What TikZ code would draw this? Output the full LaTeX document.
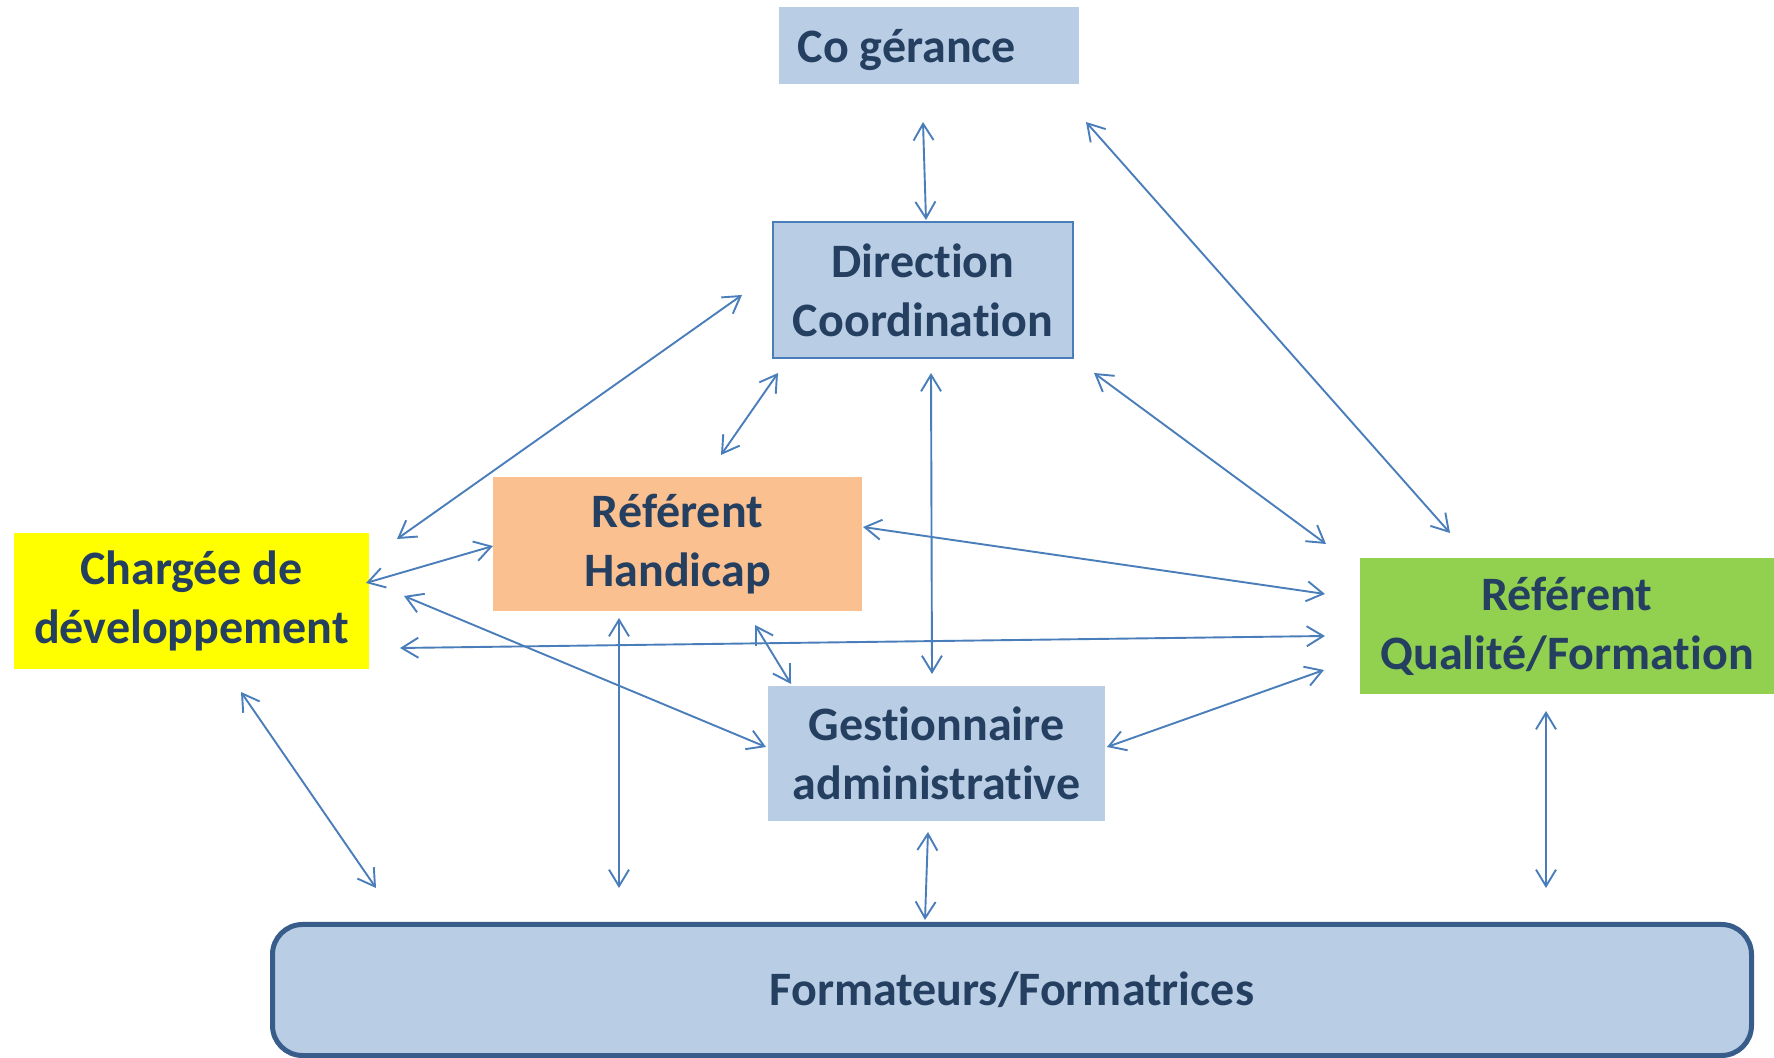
\documentclass[tikz,border=0pt]{standalone}
\usepackage{fontspec}
\setmainfont{Carlito}[Ligatures=NoCommon]
\usetikzlibrary{arrows.meta}
\definecolor{boxblue}{HTML}{B9CDE5}
\definecolor{peach}{HTML}{FAC090}
\definecolor{yel}{HTML}{FFFF00}
\definecolor{grn}{HTML}{92D050}
\definecolor{txt}{HTML}{243F60}
\definecolor{arrowc}{HTML}{4A7EBB}
\definecolor{formborder}{HTML}{385D8A}
\tikzset{
  box/.style={inner sep=0pt, outer sep=0pt, align=center, text=txt,
    font=\fontsize{24pt}{29.5pt}\selectfont\bfseries},
  conn/.style={draw=arrowc, line width=0.95pt,
    {Straight Barb[length=8.25pt,width=10pt]}-{Straight Barb[length=8.25pt,width=10pt]}}
}
\begin{document}
\begin{tikzpicture}[x=0.5pt,y=-0.5pt]
\useasboundingbox (0,0) rectangle (1774,1058);
\fill[white] (0,0) rectangle (1774,1058);

% nodes
\node[box, fill=boxblue, minimum width=150pt, minimum height=38.5pt, text height=22pt, text depth=4.5pt] (co) at (929,45.5) {Co gérance\hspace*{22pt}};
\node[box, fill=boxblue, draw=arrowc, line width=1pt, minimum width=150pt, minimum height=68pt] (dir) at (923,290) {Direction\\Coordination};
\node[box, fill=peach, minimum width=184.5pt, minimum height=67pt] (hand) at (677.5,544) {Référent\\Handicap};
\node[box, fill=yel, minimum width=177.5pt, minimum height=68pt] (charg) at (191.5,601) {Chargée de\\développement};
\node[box, fill=grn, minimum width=207pt, minimum height=68pt] (rq) at (1567,626) {Référent\\Qualité/Formation};
\node[box, fill=boxblue, minimum width=168.5pt, minimum height=67.5pt] (gest) at (936.5,753.5) {Gestionnaire\\administrative};
\node[box, fill=boxblue, draw=formborder, line width=2.5pt, rounded corners=15pt, minimum width=739.5pt, minimum height=65.5pt] (form) at (1012,990) {Formateurs/Formatrices};

% connectors
\draw[conn] ([shift={(-6,38)}]co.south) -- ([shift={(3,-2)}]dir.north);
\draw[conn] ([shift={(7,38)}]co.south east) -- ([shift={(90,-25)}]rq.north west);
\draw[conn] ([shift={(21,15)}]dir.south east) -- ([shift={(-34,-14)}]rq.north west);
\draw[conn] ([shift={(-31,5)}]dir.west) -- ([shift={(28,6)}]charg.north east);
\draw[conn] ([shift={(5,15)}]dir.south west) -- ([shift={(43.5,-22)}]hand.north);
\draw[conn] ([shift={(8,15)}]dir.south) -- ([shift={(-4.5,-12)}]gest.north);
\draw[conn] ([shift={(-3,-18)}]charg.east) -- ([shift={(0,2)}]hand.west);
\draw[conn] ([shift={(35,-5)}]charg.east) -- ([shift={(-2,-6.5)}]gest.west);
\draw[conn] ([shift={(31,47)}]charg.east) -- ([shift={(-35,10)}]rq.west);
\draw[conn] ([shift={(1,-17)}]hand.east) -- ([shift={(-35,-32)}]rq.west);
\draw[conn] ([shift={(-107,14)}]hand.south east) -- ([shift={(23,-2)}]gest.north west);
\draw[conn] ([shift={(-58.5,7)}]hand.south) -- ([shift={(346.5,-36.5)}]form.north west);
\draw[conn] ([shift={(49.5,23)}]charg.south) -- ([shift={(103.5,-36.5)}]form.north west);
\draw[conn] ([shift={(-8.5,11)}]gest.south) -- ([shift={(-87,-4.5)}]form.north);
\draw[conn] ([shift={(2,-6.5)}]gest.east) -- ([shift={(-36,44)}]rq.west);
\draw[conn] ([shift={(-21,17)}]rq.south) -- ([shift={(-205.5,-36.5)}]form.north east);
\end{tikzpicture}
\end{document}
